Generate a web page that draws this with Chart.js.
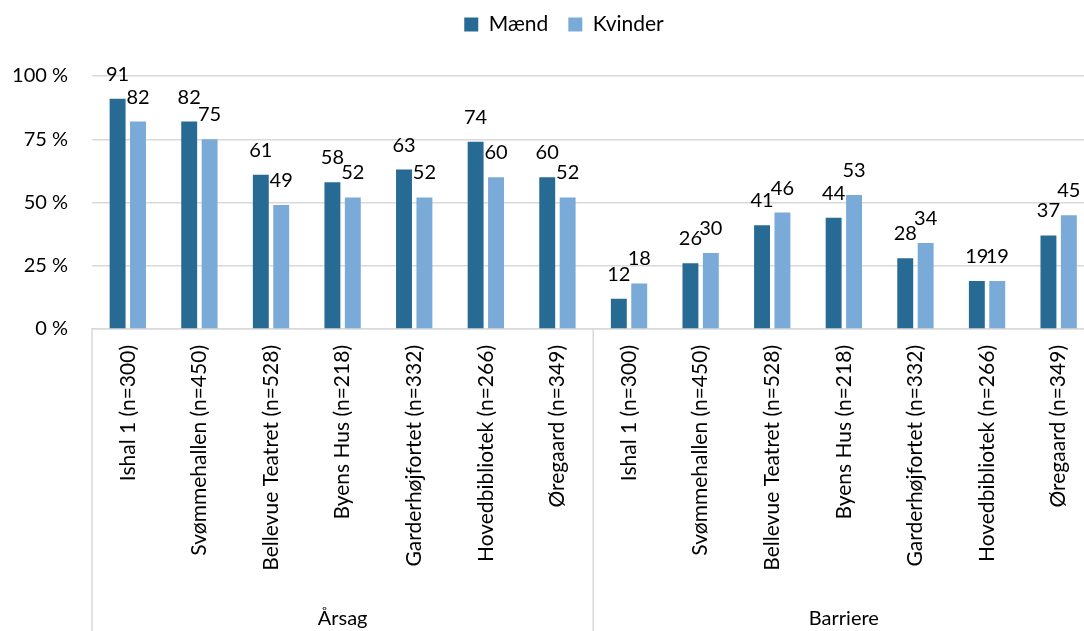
<!DOCTYPE html>
<html>
<head>
<meta charset="utf-8">
<script src="https://cdn.jsdelivr.net/npm/chart.js@4"></script>
<style>
    body { margin: 0; background: #fff; overflow: hidden; }
    #wrap { width: 1100px; height: 631px; }
</style>
</head>
<body>
<div id="wrap"><canvas id="chart"></canvas></div>
<script>

var places = ["Ishal 1 (n=300)", "Svømmehallen (n=450)", "Bellevue Teatret (n=528)", "Byens Hus (n=218)",
              "Garderhøjfortet (n=332)", "Hovedbibliotek (n=266)", "Øregaard (n=349)"];
var groups = ["Årsag", "Barriere"];
var categories = places.concat(places);

var maend   = [91, 82, 61, 58, 63, 74, 60, 12, 26, 41, 44, 28, 19, 37];
var kvinder = [82, 75, 49, 52, 52, 60, 52, 18, 30, 46, 53, 34, 19, 45];

var yTicks = [0, 25, 50, 75, 100];

var FONT = "Lato, 'Open Sans', sans-serif";
var GRID = "#D9D9D9";

// value labels above every bar
var barLabels = {
    id: 'barLabels',
    afterDatasetsDraw: function(chart) {
        var ctx = chart.ctx;
        ctx.save();
        ctx.font = "20px " + FONT;
        ctx.fillStyle = "#000";
        ctx.textAlign = "center";
        ctx.textBaseline = "alphabetic";
        chart.data.datasets.forEach(function(ds, i) {
            chart.getDatasetMeta(i).data.forEach(function(bar, j) {
                ctx.fillText(ds.data[j], bar.x, bar.y - 18);
            });
        });
        ctx.restore();
    }
};

// group names + separators under the category axis
var groupAxis = {
    id: 'groupAxis',
    afterDraw: function(chart) {
        var xs = chart.scales.x;
        var ctx = chart.ctx;
        var per = places.length;
        var w = (xs.right - xs.left) / categories.length;
        ctx.save();
        ctx.strokeStyle = GRID;
        ctx.lineWidth = 1.5;
        for (var g = 0; g <= groups.length; g++) {
            var x = xs.left + g * per * w;
            ctx.beginPath();
            ctx.moveTo(x, xs.top);
            ctx.lineTo(x, chart.height);
            ctx.stroke();
        }
        ctx.font = "20px " + FONT;
        ctx.fillStyle = "#000";
        ctx.textAlign = "center";
        ctx.textBaseline = "middle";
        groups.forEach(function(name, g) {
            ctx.fillText(name, xs.left + (g + 0.5) * per * w, chart.height - 12);
        });
        ctx.restore();
    }
};

// legend block: fixed height and nudged to where it sits in the original
var legendPlace = {
    id: 'legendPlace',
    beforeUpdate: function(chart) {
        var lg = chart.legend;
        if (lg && !lg._patched) {
            var fit = lg.fit;
            lg.fit = function() { fit.call(this); this.height = 76; };
            lg._patched = true;
        }
    },
    afterLayout: function(chart) {
        chart.legend.left += 16;
        chart.legend.right += 16;
        chart.legend.top = -6;
    }
};

var ctx = document.getElementById("chart").getContext('2d');
var myChart = new Chart(ctx, {
    type: 'bar',
    data: {
        labels: categories,
        datasets: [{
            label: "Mænd",
            data: maend,
            backgroundColor: "#276A94",
            categoryPercentage: 0.57,
            barPercentage: 0.78
        }, {
            label: "Kvinder",
            data: kvinder,
            backgroundColor: "#7AAAD8",
            categoryPercentage: 0.57,
            barPercentage: 0.78
        }]
    },
    options: {
        responsive: true,
        maintainAspectRatio: false,
        animation: false,
        layout: { padding: { top: 0, left: 0, bottom: 0, right: 4 } },
        plugins: {
            legend: {
                position: 'top',
                labels: {
                    boxWidth: 14,
                    boxHeight: 14,
                    padding: 20,
                    color: "#000",
                    font: { family: FONT, size: 21 }
                }
            },
            tooltip: { enabled: false }
        },
        scales: {
            x: {
                grid: { display: false, drawTicks: false },
                border: { display: true, color: GRID, width: 1.5 },
                ticks: {
                    autoSkip: false,
                    minRotation: 90,
                    maxRotation: 90,
                    padding: 16,
                    color: "#000",
                    font: { family: FONT, size: 21 }
                },
                afterFit: function(scale) { scale.height = 302; }
            },
            y: {
                min: yTicks[0],
                max: yTicks[yTicks.length - 1],
                afterBuildTicks: function(scale) {
                    scale.ticks = yTicks.map(function(v) { return { value: v }; });
                },
                grid: { color: GRID, lineWidth: 1.5, drawTicks: false },
                border: { display: false },
                ticks: {
                    padding: 24,
                    color: "#000",
                    font: { family: FONT, size: 20 },
                    callback: function(v) { return v + " %"; }
                },
                afterFit: function(scale) { scale.width = 92; }
            }
        }
    },
    plugins: [barLabels, groupAxis, legendPlace]
});

</script>
</body>
</html>
